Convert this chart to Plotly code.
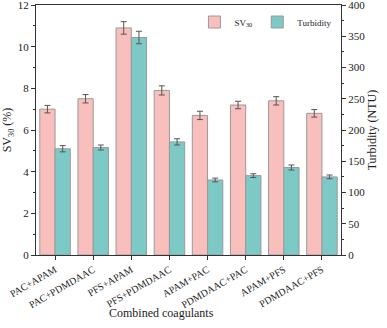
import plotly.graph_objects as go

categories = ["PAC+APAM", "PAC+PDMDAAC", "PFS+APAM", "PFS+PDMDAAC",
              "APAM+PAC", "PDMDAAC+PAC", "APAM+PFS", "PDMDAAC+PFS"]
sv30 = [7.0, 7.5, 10.9, 7.9, 6.7, 7.2, 7.4, 6.8]
sv30_err = [0.18, 0.2, 0.3, 0.22, 0.2, 0.18, 0.2, 0.18]
turbidity = [170, 172, 348, 181, 120, 127, 140, 125]
turbidity_err = [5, 4, 10, 5, 3, 3, 4, 3]

pink = "#F9BFBD"
teal = "#7DC9C5"
serif = "Liberation Serif, Times New Roman, serif"

fig = go.Figure()
fig.add_trace(go.Bar(
    x=categories, y=sv30, name="SV<sub>30</sub>",
    marker=dict(color=pink, line=dict(color="#9a9a9a", width=1)),
    error_y=dict(type="data", array=sv30_err, color="#555555", thickness=1, width=3),
    offsetgroup="a", yaxis="y",
))
fig.add_trace(go.Bar(
    x=categories, y=turbidity, name="Turbidity",
    marker=dict(color=teal, line=dict(color="#9a9a9a", width=1)),
    error_y=dict(type="data", array=turbidity_err, color="#555555", thickness=1, width=3),
    offsetgroup="b", yaxis="y2",
))

axis_common = dict(showline=True, linecolor="#333333", linewidth=1.3,
                   ticks="outside", ticklen=4, tickcolor="#333333",
                   showgrid=False, zeroline=False, automargin=False,
                   ticklabeloverflow="allow",
                   tickfont=dict(family=serif, size=11, color="#222222"))

fig.update_layout(
    width=387, height=328,
    margin=dict(l=36, r=46, t=5, b=73),
    paper_bgcolor="white", plot_bgcolor="white",
    barmode="group", bargap=0.2, bargroupgap=0,
    font=dict(family=serif, color="#222222"),
    showlegend=True,
    legend=dict(orientation="h", x=0.985, xanchor="right", y=0.99, yanchor="top",
                bgcolor="rgba(0,0,0,0)", font=dict(family=serif, size=9),
                itemwidth=30, traceorder="normal"),
    xaxis=dict(**{**axis_common, "tickfont": dict(family=serif, size=10, color="#222222")},
               tickangle=-30, mirror=True, range=[-0.5, 7.5]),
    yaxis=dict(**axis_common, range=[0, 12], tickvals=[0, 2, 4, 6, 8, 10, 12],
               minor=dict(ticks="outside", ticklen=2, dtick=1, tickcolor="#333333"),
               title=dict(text="SV<sub>30</sub> (%)", font=dict(family=serif, size=12), standoff=4)),
    yaxis2=dict(**axis_common, overlaying="y", side="right", range=[0, 400],
                tickvals=[0, 50, 100, 150, 200, 250, 300, 350, 400],
                minor=dict(ticks="outside", ticklen=2, dtick=25, tickcolor="#333333"),
                title=dict(text="Turbidity (NTU)", font=dict(family=serif, size=12), standoff=3)),
    annotations=[dict(text="Combined coagulants", xref="paper", yref="paper",
                      x=0.41, y=-0.232, xanchor="center", yanchor="middle",
                      showarrow=False, font=dict(family=serif, size=12))],
)

# the page body has a default 8px margin, drop it so the figure fills the window
fig.write_html("out.html", config={"displayModeBar": False},
               post_script="document.body.style.margin='0';")
